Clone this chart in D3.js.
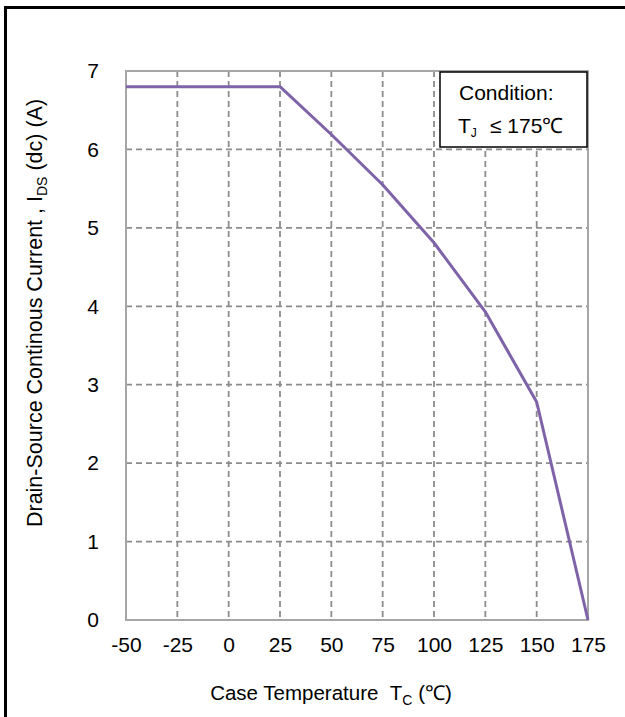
<!DOCTYPE html>
<html>
<head>
<meta charset="utf-8">
<script src="https://cdn.jsdelivr.net/npm/d3@7"></script>
<style>
  body { margin: 0; background: #fff; }
  svg text { font-family: "Liberation Sans", Arial, sans-serif; fill: #000; }
</style>
</head>
<body>
<svg id="chart" width="625" height="717"></svg>
<script>
(function() {
    'use strict';

    // case temperature (degC) vs. max continuous drain current (A)
    var temps = [-50, 25, 50, 75, 100, 125, 150, 175];
    var currents = [6.8, 6.8, 6.19, 5.55, 4.81, 3.93, 2.78, 0];

    var xTicks = [-50, -25, 0, 25, 50, 75, 100, 125, 150, 175];
    var yTicks = [0, 1, 2, 3, 4, 5, 6, 7];

    var svg = d3.select('#chart');

    var margin = { left: 126, top: 71, right: 37, bottom: 97 };
    var width = 625 - margin.left - margin.right;
    var height = 717 - margin.top - margin.bottom;

    var x = d3.scaleLinear().domain([-50, 175]).range([0, width]);
    var y = d3.scaleLinear().domain([0, 7]).range([height, 0]);

    // outer frame, cut off at right and bottom
    svg.append('rect')
        .attr('x', 5.5).attr('y', 7.5)
        .attr('width', 700).attr('height', 800)
        .attr('fill', 'none')
        .attr('stroke', '#000')
        .attr('stroke-width', 3);

    var g = svg.append('g')
        .attr('transform', 'translate(' + margin.left + ',' + margin.top + ')');

    // dashed grid
    g.append('g')
        .selectAll('line')
        .data(xTicks.slice(1, -1))
        .enter().append('line')
        .attr('x1', function(d) { return x(d); })
        .attr('x2', function(d) { return x(d); })
        .attr('y1', 0).attr('y2', height)
        .attr('stroke', '#8c8c8c')
        .attr('stroke-width', 1.8)
        .attr('stroke-dasharray', '6,4');

    g.append('g')
        .selectAll('line')
        .data(yTicks.slice(1, -1))
        .enter().append('line')
        .attr('x1', 0).attr('x2', width)
        .attr('y1', function(d) { return y(d); })
        .attr('y2', function(d) { return y(d); })
        .attr('stroke', '#8c8c8c')
        .attr('stroke-width', 1.8)
        .attr('stroke-dasharray', '6,4');

    // plot border
    g.append('rect')
        .attr('x', 0).attr('y', 0)
        .attr('width', width).attr('height', height)
        .attr('fill', 'none')
        .attr('stroke', '#a6a6a6')
        .attr('stroke-width', 2);

    // axes (labels only)
    var fmt = function(d) { return String(d); };
    var xAxis = g.append('g')
        .attr('transform', 'translate(0,' + height + ')')
        .call(d3.axisBottom(x).tickValues(xTicks).tickFormat(fmt).tickSize(0).tickPadding(17));
    var yAxis = g.append('g')
        .call(d3.axisLeft(y).tickValues(yTicks).tickFormat(fmt).tickSize(0).tickPadding(27));

    [xAxis, yAxis].forEach(function(a) {
        a.select('.domain').remove();
        a.selectAll('text')
            .style('font-family', '"Liberation Sans", Arial, sans-serif')
            .style('font-size', '21px')
            .attr('fill', '#000');
    });

    // derating curve
    var line = d3.line()
        .x(function(d, i) { return x(temps[i]); })
        .y(function(d) { return y(d); });

    g.append('path')
        .datum(currents)
        .attr('d', line)
        .attr('fill', 'none')
        .attr('stroke', '#7f63a8')
        .attr('stroke-width', 3)
        .attr('stroke-linejoin', 'round');

    // condition box
    var box = g.append('g').attr('transform', 'translate(' + (width - 148) + ',1)');
    box.append('rect')
        .attr('width', 147).attr('height', 75)
        .attr('fill', '#fff')
        .attr('stroke', '#000')
        .attr('stroke-width', 1.5);
    box.append('text')
        .attr('x', 19).attr('y', 28)
        .style('font-size', '21px')
        .text('Condition:');
    var t2 = box.append('text')
        .attr('x', 18).attr('y', 61)
        .style('font-size', '21px');
    t2.append('tspan').text('T');
    t2.append('tspan').attr('dy', 4).style('font-size', '12px').text('J');
    t2.append('tspan').attr('x', 50).attr('dy', -4).text('≤ 175℃');

    // x axis title
    var xt = svg.append('text')
        .attr('x', 331)
        .attr('y', 700)
        .attr('text-anchor', 'middle')
        .style('font-size', '20.5px');
    xt.append('tspan').text('Case Temperature\u00a0\u00a0T');
    xt.append('tspan').attr('dy', 5).style('font-size', '14px').text('C');
    xt.append('tspan').attr('dy', -5).text(' (℃)');

    // y axis title
    var yt = svg.append('text')
        .attr('transform', 'translate(42,' + 313 + ') rotate(-90)')
        .attr('text-anchor', 'middle')
        .style('font-size', '21.5px');
    yt.append('tspan').text('Drain-Source Continous Current , I');
    yt.append('tspan').attr('dy', 5).style('font-size', '14px').text('DS');
    yt.append('tspan').attr('dy', -5).text(' (dc) (A)');
}());
</script>
</body>
</html>
